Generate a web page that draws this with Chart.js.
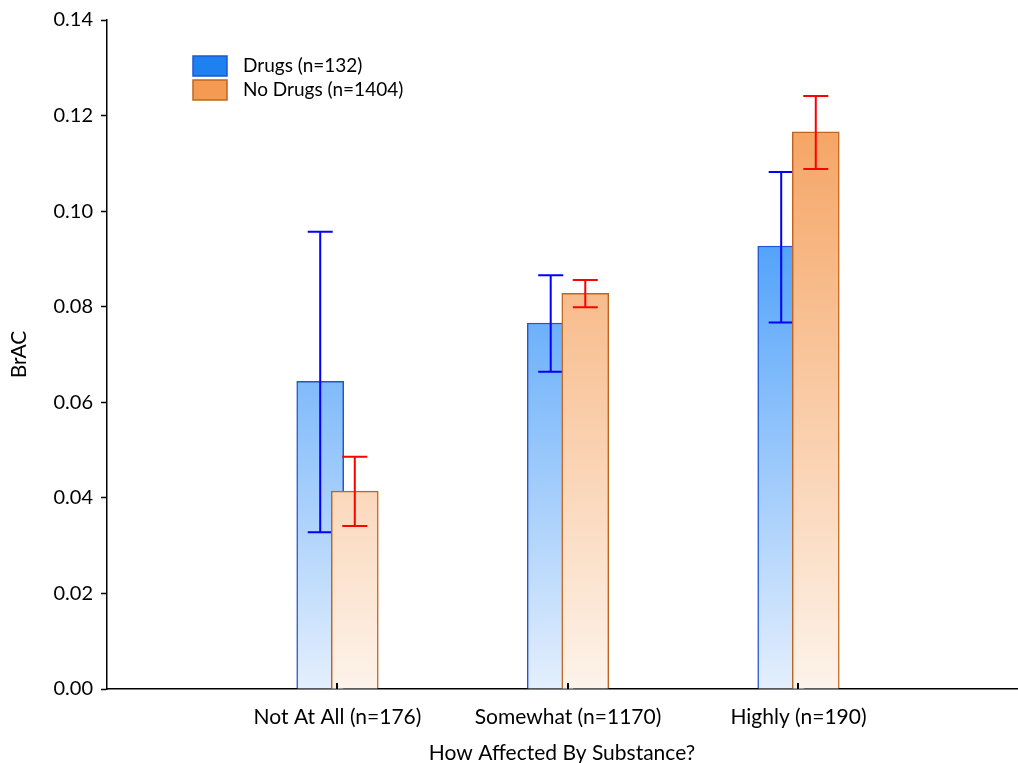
<!DOCTYPE html>
<html>
<head>
<meta charset="utf-8">
<script src="https://cdn.jsdelivr.net/npm/chart.js@4.4.1/dist/chart.umd.min.js"></script>
<style>
  html, body { margin: 0; padding: 0; background: #fff; }
  #wrap { width: 1018px; height: 763px; }
</style>
</head>
<body>
<div id="wrap"><canvas id="barChart"></canvas></div>
<script>
// Categories (x axis) and series names
const categories = ['Not At All (n=176)', 'Somewhat (n=1170)', 'Highly (n=190)'];
const seriesLabels = ['Drugs (n=132)', 'No Drugs (n=1404)'];

// Mean BrAC per group
const drugsMean = [0.0644, 0.0766, 0.0927];
const noDrugsMean = [0.0414, 0.0828, 0.1166];

// Error bar ends (low / high)
const drugsLow = [0.0328, 0.0664, 0.0767];
const drugsHigh = [0.0957, 0.0866, 0.1082];
const noDrugsLow = [0.0341, 0.0799, 0.1088];
const noDrugsHigh = [0.0486, 0.0856, 0.1241];

// Y axis ticks
const yTicks = [0, 0.02, 0.04, 0.06, 0.08, 0.10, 0.12, 0.14];

const FONT = 'Lato';
const SHIFT = 0.075; // how far each bar sits from the category tick (overlapping bars)

// vertical gradient over the whole plot area
function vGradient(chart, top, bottom) {
    const area = chart.chartArea;
    if (!area) return top;
    const g = chart.ctx.createLinearGradient(0, area.top, 0, area.bottom);
    g.addColorStop(0, top);
    g.addColorStop(1, bottom);
    return g;
}

// Error bars drawn right after their own dataset
const errorBars = {
    id: 'errorBars',
    afterDatasetDraw(chart, args) {
        const ds = chart.data.datasets[args.index];
        const yScale = chart.scales.y;
        const ctx = chart.ctx;
        ctx.save();
        ctx.strokeStyle = ds.errorColor;
        ctx.lineWidth = 2;
        args.meta.data.forEach((bar, i) => {
            const x = bar.x;
            const top = yScale.getPixelForValue(ds.errHigh[i]);
            const bot = yScale.getPixelForValue(ds.errLow[i]);
            ctx.beginPath();
            ctx.moveTo(x, top); ctx.lineTo(x, bot);
            ctx.moveTo(x - 12.5, top); ctx.lineTo(x + 12.5, top);
            ctx.moveTo(x - 12.5, bot); ctx.lineTo(x + 12.5, bot);
            ctx.stroke();
        });
        ctx.restore();
    }
};

// Small inward ticks on the x axis + legend box in the top-left of the plot
const extras = {
    id: 'extras',
    afterDraw(chart) {
        const ctx = chart.ctx;
        const area = chart.chartArea;
        const xScale = chart.scales.x;
        ctx.save();
        ctx.strokeStyle = '#000';
        ctx.lineWidth = 2;
        categories.forEach((c, i) => {
            const px = Math.round(xScale.getPixelForValue(i + 1));
            ctx.beginPath();
            ctx.moveTo(px, area.bottom);
            ctx.lineTo(px, area.bottom - 6);
            ctx.stroke();
        });

        ctx.font = '19px ' + FONT;
        ctx.textBaseline = 'middle';
        chart.data.datasets.forEach((ds, i) => {
            const bx = area.left + 86;
            const by = area.top + 36 + i * 24;
            ctx.fillStyle = ds.legendFill;
            ctx.fillRect(bx, by, 34, 20);
            ctx.strokeStyle = ds.borderColor;
            ctx.lineWidth = 1.5;
            ctx.strokeRect(bx, by, 34, 20);
            ctx.fillStyle = '#000';
            ctx.fillText(ds.label, bx + 50, by + 10);
        });
        ctx.restore();
    }
};

const barChartData = {
    datasets: [{
        label: seriesLabels[0],
        data: drugsMean.map((v, i) => ({ x: i + 1 - SHIFT, y: v })),
        errLow: drugsLow,
        errHigh: drugsHigh,
        errorColor: '#0000ff',
        legendFill: '#1f80f0',
        backgroundColor: (c) => vGradient(c.chart, 'rgb(10,125,248)', 'rgb(228,239,253)'),
        borderColor: '#1f55d8',
        borderWidth: 1.5,
        order: 2
    }, {
        label: seriesLabels[1],
        data: noDrugsMean.map((v, i) => ({ x: i + 1 + SHIFT, y: v })),
        errLow: noDrugsLow,
        errHigh: noDrugsHigh,
        errorColor: '#ff0000',
        legendFill: '#f59a52',
        backgroundColor: (c) => vGradient(c.chart, 'rgb(244,150,75)', 'rgb(253,243,234)'),
        borderColor: '#c0651f',
        borderWidth: 1.5,
        order: 1
    }]
};

const barChartConfig = {
    type: 'bar',
    data: barChartData,
    options: {
        responsive: true,
        maintainAspectRatio: false,
        animation: false,
        layout: { padding: { top: 20, right: 1, left: 0, bottom: 0 } },
        datasets: {
            bar: { grouped: false, barThickness: 47 }
        },
        scales: {
            x: {
                type: 'linear',
                offset: false,
                min: 0,
                max: 3.948,
                afterBuildTicks: (s) => { s.ticks = categories.map((c, i) => ({ value: i + 1 })); },
                afterFit: (s) => { s.height = 74; },
                grid: { display: false, offset: false },
                border: { display: true, color: '#000', width: 1.5 },
                ticks: {
                    autoSkip: false,
                    maxRotation: 0,
                    padding: 8,
                    color: '#000',
                    font: { family: FONT, size: 21 },
                    callback: (v) => categories[v - 1]
                },
                title: {
                    display: true,
                    text: 'How Affected By Substance?',
                    color: '#000',
                    font: { family: FONT, size: 21 },
                    padding: { top: 0, bottom: -3 }
                }
            },
            y: {
                min: 0,
                max: 0.14,
                afterBuildTicks: (s) => { s.ticks = yTicks.map(v => ({ value: v })); },
                afterFit: (s) => { s.width = 107; },
                grid: { drawOnChartArea: false, tickLength: 6, tickWidth: 1.5, tickColor: '#000' },
                border: { display: true, color: '#000', width: 1.5 },
                ticks: {
                    padding: 8,
                    color: '#000',
                    font: { family: FONT, size: 20 },
                    callback: (v) => v.toFixed(2)
                },
                title: {
                    display: true,
                    text: 'BrAC',
                    color: '#000',
                    font: { family: FONT, size: 21 },
                    padding: { top: 7, bottom: 0 }
                }
            }
        },
        plugins: {
            legend: { display: false },
            tooltip: { enabled: false }
        }
    },
    plugins: [errorBars, extras]
};

const barChart = new Chart(document.getElementById('barChart'), barChartConfig);
</script>
</body>
</html>
